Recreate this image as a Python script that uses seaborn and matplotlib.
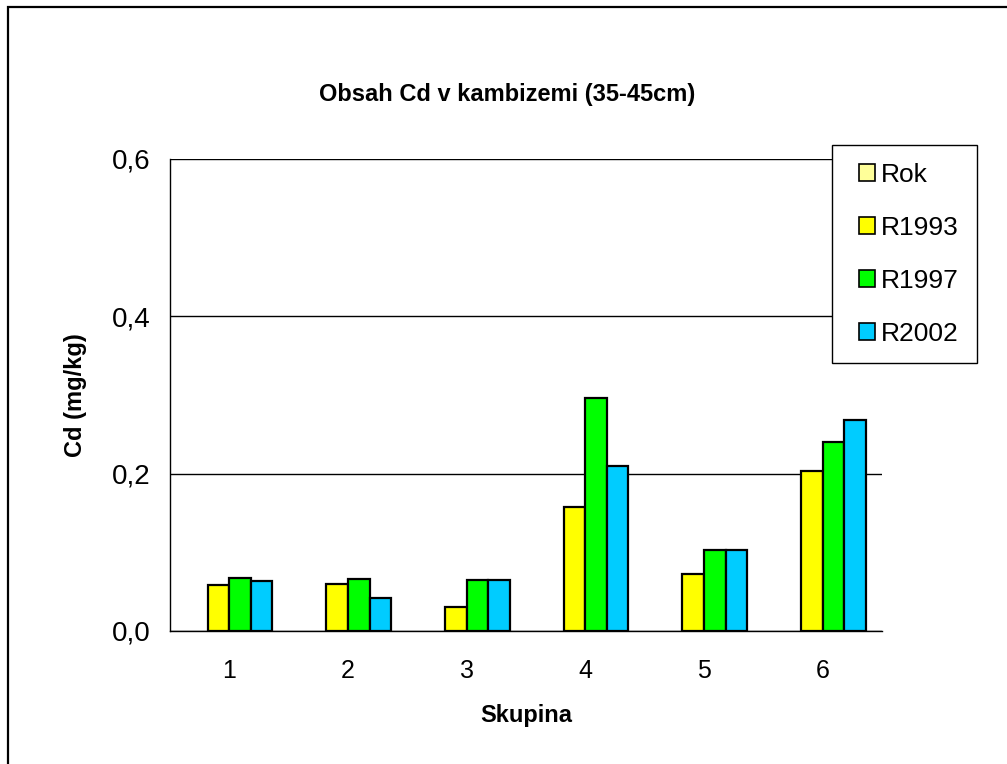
import matplotlib
matplotlib.use("Agg")
import matplotlib.pyplot as plt
from matplotlib.patches import Rectangle, Patch
from matplotlib.ticker import FixedLocator, FuncFormatter
import numpy as np
import pandas as pd
import seaborn as sns

categories = ["1", "2", "3", "4", "5", "6"]
series_names = ["Rok", "R1993", "R1997", "R2002"]
rok = [np.nan] * 6
r1993 = [0.058, 0.060, 0.030, 0.157, 0.073, 0.203]
r1997 = [0.067, 0.066, 0.065, 0.296, 0.103, 0.240]
r2002 = [0.063, 0.042, 0.065, 0.210, 0.103, 0.268]
colors = ["#FFFF99", "#FFFF00", "#00FF00", "#00CCFF"]

sns.set_style("white")
plt.rcParams["font.family"] = ["Liberation Sans", "DejaVu Sans"]
plt.rcParams["text.color"] = "black"
plt.rcParams["axes.labelcolor"] = "black"
plt.rcParams["xtick.color"] = "black"
plt.rcParams["ytick.color"] = "black"

rows = []
for name, vals in zip(series_names, [rok, r1993, r1997, r2002]):
    for c, v in zip(categories, vals):
        rows.append({"Skupina": c, "Serie": name, "Cd": v})
df = pd.DataFrame(rows)

W, H = 1007, 764
fig = plt.figure(figsize=(W / 100, H / 100), dpi=100)
ax = fig.add_axes([170 / W, 1 - 631 / H, 712 / W, 472 / H])

sns.barplot(data=df, x="Skupina", y="Cd", hue="Serie", order=categories,
            hue_order=series_names, palette=colors, width=0.725,
            errorbar=None, edgecolor="black", linewidth=1.6, ax=ax,
            saturation=1, legend=False)

ax.set_ylim(0, 0.6)
ax.set_xlim(-0.5, 5.5)
ax.yaxis.set_major_locator(FixedLocator([0, 0.2, 0.4, 0.6]))
ax.yaxis.set_major_formatter(FuncFormatter(lambda v, p: f"{v:.1f}".replace(".", ",")))
ax.yaxis.grid(True, color="black", linewidth=1.0)
ax.set_axisbelow(True)

for s in ["top", "right"]:
    ax.spines[s].set_visible(False)
for s in ["left", "bottom"]:
    ax.spines[s].set_color("black")
    ax.spines[s].set_linewidth(1.0)

ax.tick_params(axis="y", which="major", direction="out", length=9, width=1,
               color="black", labelsize=20, labelcolor="black", pad=5)
ax.tick_params(axis="x", which="major", length=0, labelsize=18,
               labelcolor="black", pad=20)
ax.xaxis.set_minor_locator(FixedLocator(np.arange(-0.5, 6.0, 1.0)))
ax.tick_params(axis="x", which="minor", direction="out", length=7, width=1, color="black")

ax.set_xlabel("Skupina", fontsize=17, fontweight="bold", labelpad=15, color="black")
ax.set_ylabel("Cd (mg/kg)", fontsize=17, fontweight="bold", labelpad=18, color="black")

fig.text(507 / W, 1 - 95 / H, "Obsah Cd v kambizemi (35-45cm)",
         ha="center", va="center", fontsize=17, fontweight="bold", color="black")

# legend box
fig.patches.append(Rectangle((832 / W, 1 - 363 / H), 145 / W, 218 / H,
                             transform=fig.transFigure, facecolor="white",
                             edgecolor="black", linewidth=1.0, zorder=3))
handles = [Patch(facecolor=c, edgecolor="black", linewidth=1.2) for c in colors]
leg = fig.legend(handles, series_names, loc="upper left",
                 bbox_to_anchor=(859 / W, 1 - 163 / H),
                 frameon=False, fontsize=19, handlelength=0.62, handleheight=0.62,
                 handletextpad=0.2, labelspacing=1.1, borderpad=0,
                 borderaxespad=0)
leg.set_zorder(4)
for t in leg.get_texts():
    t.set_color("black")

frame = Rectangle((8 / W, -0.1), 1.2, 1.1 - 7.5 / H, transform=fig.transFigure,
                  fill=False, edgecolor="black", linewidth=1.6, clip_on=False)
fig.patches.append(frame)

fig.savefig("out.png", dpi=100, facecolor="white")
